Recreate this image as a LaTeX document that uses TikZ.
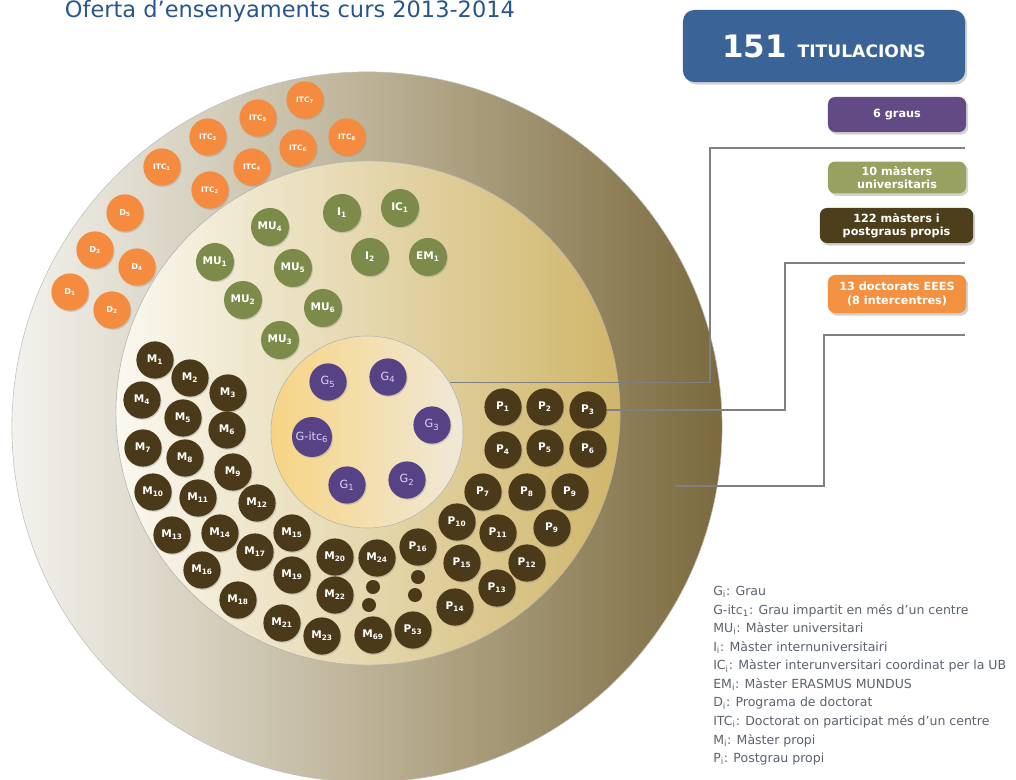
\documentclass[tikz,border=0pt]{standalone}
\usepackage{fontspec}
\setmainfont{DejaVu Sans}
\usetikzlibrary{shapes,positioning,calc,shadows}

\definecolor{titleblue}{RGB}{40,86,140}
\definecolor{totalblue}{RGB}{58,100,151}
\definecolor{graupurple}{RGB}{88,66,134}
\definecolor{graubox}{RGB}{98,74,132}
\definecolor{graulabel}{RGB}{222,214,242}
\definecolor{masterolive}{RGB}{124,138,74}
\definecolor{masterbox}{RGB}{152,161,96}
\definecolor{propibrown}{RGB}{75,58,26}
\definecolor{propibox}{RGB}{77,63,28}
\definecolor{doctorange}{RGB}{245,139,62}
\definecolor{doctbox}{RGB}{243,145,64}
\definecolor{ringlight}{RGB}{243,242,237}
\definecolor{ringmid}{RGB}{188,178,150}
\definecolor{ringdark}{RGB}{123,106,62}
\definecolor{midlight}{RGB}{250,248,240}
\definecolor{midgold}{RGB}{208,182,106}
\definecolor{innergold}{RGB}{246,212,132}
\definecolor{innerpale}{RGB}{240,233,216}
\definecolor{linegray}{RGB}{128,128,128}
\definecolor{legendgray}{RGB}{90,98,110}

\begin{document}
\begin{tikzpicture}[
    x=0.025cm, y=-0.025cm,
    bubble/.style={circle, inner sep=0pt, minimum size=0.93cm, text=white,
        drop shadow={shadow xshift=0.7pt, shadow yshift=-0.9pt, opacity=0.3}},
    docb/.style={bubble, fill=doctorange, font=\fontsize{5.3}{6}\selectfont\bfseries},
    mub/.style={bubble, fill=masterolive, minimum size=0.95cm, font=\fontsize{7.5}{8}\selectfont\bfseries},
    grb/.style={bubble, fill=graupurple, text=graulabel, font=\fontsize{8}{9}\selectfont},
    propib/.style={bubble, fill=propibrown, font=\fontsize{7.5}{8}\selectfont\bfseries},
    smalldot/.style={circle, fill=propibrown, inner sep=0pt, minimum size=0.35cm},
    box/.style={rectangle, rounded corners=5pt, text=white, align=center, minimum width=3.45cm,
        font=\fontsize{8}{9.5}\selectfont\bfseries,
        drop shadow={shadow xshift=1.5pt, shadow yshift=-1.8pt, opacity=0.35}},
    link/.style={draw=linegray, line width=0.8pt}
]
\useasboundingbox (0,0) rectangle (1016,780);
\clip (0,0) rectangle (1016,780);

% Title
\node[anchor=base west, font=\fontsize{16}{18}\selectfont, text=titleblue] (title) at (60,18) {Oferta d'ensenyaments curs 2013-2014};

% Rings
\node[circle, minimum size=17.75cm, draw=black!25, line width=0.4pt,
      left color=ringlight, right color=ringdark, middle color=ringmid] (outerring) at (367,427) {};
\node[circle, minimum size=12.6cm, draw=black!30, line width=0.4pt,
      left color=midlight, right color=midgold] (midring) at (368,413) {};
\node[circle, minimum size=4.8cm, draw=black!30, line width=0.4pt,
      left color=innergold, right color=innerpale] (grauarea) at (367,432) {};

% Doctorats
\foreach \n/\x/\y in {7/305/100, 5/258/118, 3/208/137, 8/347/137, 6/298/148, 4/252/167, 1/162/167, 2/210/190}
    \node[docb] (itc\n) at (\x,\y) {ITC\textsubscript{\n}};
\foreach \n/\x/\y in {5/125/213, 3/95/250, 4/137/267, 1/70/292, 2/112/310}
    \node[docb, font=\fontsize{5.8}{6}\selectfont\bfseries] (d\n) at (\x,\y) {D\textsubscript{\n}};

% Masters universitaris
\foreach \n/\x/\y in {4/270/227, 1/215/262, 5/293/268, 2/243/300, 6/323/308, 3/280/340}
    \node[mub] (mu\n) at (\x,\y) {MU\textsubscript{\n}};
\node[mub] (i1) at (342,213) {I\textsubscript{1}};
\node[mub] (ic1) at (400,208) {IC\textsubscript{1}};
\node[mub] (i2) at (370,257) {I\textsubscript{2}};
\node[mub] (em1) at (428,257) {EM\textsubscript{1}};

% Graus
\foreach \n/\x/\y in {5/328/382, 4/388/377, 3/432/425, 1/347/485, 2/407/480}
    \node[grb] (g\n) at (\x,\y) {G\textsubscript{\n}};
\node[grb, minimum size=1cm] (gitc6) at (312,437) {G-itc\textsubscript{6}};

% Masters propis
\foreach \n/\x/\y in {1/155/360, 2/190/378, 3/228/393, 4/142/400, 5/183/418, 6/227/430,
    7/143/448, 8/185/458, 9/233/472, 10/153/492, 11/198/498, 12/257/503, 13/172/535,
    14/220/533, 15/292/533, 17/255/552, 16/202/570, 19/292/575, 20/335/557, 24/377/558,
    18/238/600, 22/335/595, 21/282/623, 23/322/636, 69/373/635}
    \node[propib] (m\n) at (\x,\y) {M\textsubscript{\n}};

% Postgraus propis
\foreach \n/\x/\y in {1/503/407, 2/545/407, 3/588/410, 4/503/450, 5/545/448, 6/588/449,
    7/483/492, 8/527/492, 9/570/492, 10/457/522, 11/498/533, 16/418/547, 15/462/563,
    12/527/563, 13/497/588, 14/455/607, 53/413/630}
    \node[propib] (p\n) at (\x,\y) {P\textsubscript{\n}};
\node[propib] (p9b) at (552,528) {P\textsubscript{9}};

\foreach \n/\x/\y in {a/373/587, b/369/605, c/418/577, d/415/595}
    \node[smalldot] (dot\n) at (\x,\y) {};

% Boxes
\node[box, fill=totalblue, minimum width=7.05cm, minimum height=1.8cm, rounded corners=8pt] (total) at (824,46)
    {\fontsize{22}{24}\selectfont 151 \fontsize{12.2}{14}\selectfont TITULACIONS};
\node[box, fill=graubox, minimum height=0.875cm] (graus) at (897,114.5) {6 graus};
\node[box, fill=masterbox, minimum height=0.78cm] (masters) at (897,177.5) {10 màsters\\universitaris};
\node[box, fill=propibox, minimum width=3.83cm, minimum height=0.875cm] (propis) at (896.5,225.5) {122 màsters i\\postgraus propis};
\node[box, fill=doctbox, minimum height=0.95cm] (doctorats) at (897,294) {13 doctorats EEES\\(8 intercentres)};

% Connectors
\coordinate (grauend) at (965,148);
\coordinate (propiend) at (965,263);
\coordinate (doctend) at (965,335);
\coordinate (doctin) at (675,486);
\draw[link] (grauend) -- ++(-255,0) |- (grauarea.31);
\draw[link] (propiend) -- ++(-180,0) |- (p3.east);
\draw[link] (doctend) -- ++(-141,0) |- (doctin);

% Legend
\node[anchor=north west, inner sep=0pt, align=left, text=legendgray,
      font=\fontsize{8.9}{13.2}\selectfont] (legend) at (713,586) {
    G\textsubscript{i}: Grau\\
    G-itc\textsubscript{1}: Grau impartit en més d'un centre\\
    MU\textsubscript{i}: Màster universitari\\
    I\textsubscript{i}: Màster internuniversitairi\\
    IC\textsubscript{i}: Màster interunversitari coordinat per la UB\\
    EM\textsubscript{i}: Màster ERASMUS MUNDUS\\
    D\textsubscript{i}: Programa de doctorat\\
    ITC\textsubscript{i}: Doctorat on participat més d'un centre\\
    M\textsubscript{i}: Màster propi\\
    P\textsubscript{i}: Postgrau propi
};

\end{tikzpicture}
\end{document}
